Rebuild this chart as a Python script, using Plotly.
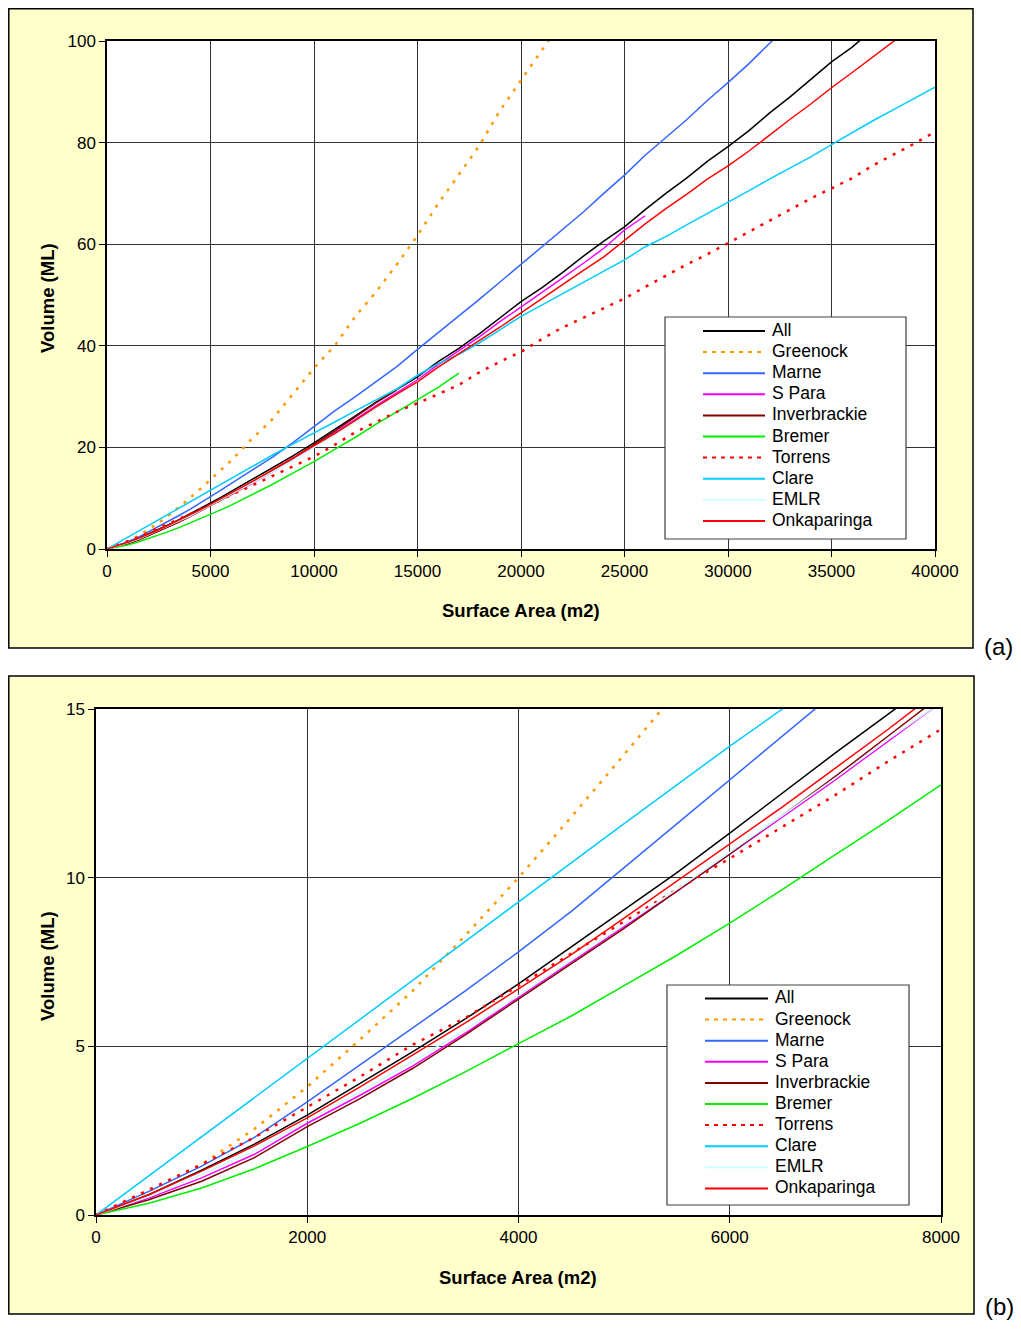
import plotly.graph_objects as go

# ---------------- data ----------------
area = [0, 500, 1000, 1500, 2000, 2500, 3000, 3500, 4000, 4500, 5000, 5500, 6000, 6500, 7000, 7500, 8000,
        9000, 10000, 11000, 12000, 13000, 14000, 15000, 16000, 17000, 18000, 19000, 20000, 21000, 22000,
        23000, 24000, 25000, 26000, 27000, 28000, 29000, 30000, 31000, 32000, 33000, 34000, 35000, 36000,
        37000, 38000, 39000, 40000]

vol_all = [0, 0.6, 1.33, 2.1, 2.96, 3.9, 4.84, 5.82, 6.85, 7.95, 9.05, 10.15, 11.32, 12.5, 13.7, 14.85, 16.0,
           18.4, 20.9, 23.5, 26.2, 28.9, 31.4, 33.9, 36.9, 39.5, 42.4, 45.5, 48.7, 51.4, 54.4,
           57.6, 60.6, 63.4, 66.8, 70.0, 73.0, 76.3, 79.2, 82.3, 85.8, 89.0, 92.5, 95.9, 98.8,
           102.3, None, None, None]

vol_greenock = [0, 0.7, 1.5, 2.55, 3.8, 5.2, 6.65, 8.3, 10.0, 11.8, 13.65, 15.5, 17.4, 19.5, 21.7, 23.6, 25.6,
                30.6, 35.6, 40.0, 45.8, 50.6, 56.0, 61.7, 68.0, 73.7, 79.5, 86.4, 92.3, 98.3, 104.0,
                None, None, None, None, None, None, None, None, None, None, None, None, None, None,
                None, None, None, None]

vol_marne = [0, 0.7, 1.45, 2.3, 3.35, 4.45, 5.55, 6.65, 7.8, 9.0, 10.3, 11.6, 12.9, 14.2, 15.5, 16.8, 18.1,
             21.0, 24.1, 27.2, 30.0, 33.0, 35.9, 39.3, 42.6, 45.8, 49.2, 52.6, 56.0, 59.5, 62.8,
             66.3, 70.0, 73.6, 77.5, 81.0, 84.5, 88.3, 91.8, 95.5, 99.6, 103.5, None, None, None,
             None, None, None, None]

vol_spara = [0, 0.5, 1.1, 1.8, 2.72, 3.55, 4.42, 5.4, 6.45, 7.5, 8.55, 9.6, 10.7, 11.8, 12.9, 14.05, 15.2,
             17.6, 20.2, 22.8, 25.5, 28.2, 30.8, 33.3, 36.3, 39.0, 41.8, 44.8, 47.6, 50.5, 53.3,
             56.2, 59.2, 62.8, 65.6, None, None, None, None, None, None, None, None, None, None,
             None, None, None, None]

vol_inverbrackie = [0, 0.45, 1.0, 1.7, 2.62, 3.45, 4.35, 5.35, 6.4, 7.45, 8.5, 9.6, 10.7, 11.85, 13.0, 14.2, 15.4,
                    17.9, 20.5, 23.2, 26.0, 28.8, 31.3, None, None, None, None, None, None, None, None,
                    None, None, None, None, None, None, None, None, None, None, None, None, None, None,
                    None, None, None, None]

vol_bremer = [0, 0.35, 0.8, 1.37, 2.03, 2.72, 3.46, 4.25, 5.08, 5.9, 6.8, 7.7, 8.65, 9.65, 10.68, 11.7, 12.75,
              15.0, 17.2, 19.6, 22.0, 24.6, 27.0, 29.4, 31.8, 34.6, None, None, None, None, None,
              None, None, None, None, None, None, None, None, None, None, None, None, None, None,
              None, None, None, None]

vol_torrens = [0, 0.75, 1.5, 2.3, 3.2, 4.1, 5.05, 5.85, 6.8, 7.75, 8.7, 9.65, 10.57, 11.5, 12.45, 13.45, 14.4,
               16.3, 18.2, 20.5, 23.0, 25.0, 27.0, 28.7, 30.5, 32.3, 34.8, 36.9, 38.8, 41.3, 43.6,
               45.5, 47.3, 49.3, 51.6, 53.8, 56.0, 58.0, 60.2, 62.4, 64.6, 66.8, 69.0, 71.0, 73.0,
               75.5, 77.6, 79.8, 82.1]

vol_clare = [0, 1.16, 2.32, 3.48, 4.65, 5.8, 6.97, 8.13, 9.3, 10.45, 11.6, 12.75, 13.9, 15.0, 16.2, 17.4, 18.5,
             20.7, 22.8, 25.0, 27.2, 29.3, 31.5, 34.2, 36.5, 38.3, 40.6, 43.2, 45.8, 48.0, 50.2,
             52.4, 54.6, 56.9, 59.5, 61.5, 63.8, 66.0, 68.2, 70.5, 72.8, 75.0, 77.2, 79.6, 82.0,
             84.3, 86.5, 88.7, 90.9]

vol_emlr = [0, 0.55, 1.2, 1.9, 2.8, 3.65, 4.55, 5.5, 6.5, 7.55, 8.6, 9.65, 10.75, 11.85, 12.95, 14.1, 15.2,
            17.5, 20.0, 22.5, 25.0, 27.7, 30.3, 33.0, 35.8, 38.3, None, None, None, None, None,
            None, None, None, None, None, None, None, None, None, None, None, None, None, None,
            None, None, None, None]

vol_onkaparinga = [0, 0.6, 1.3, 2.05, 2.88, 3.8, 4.75, 5.7, 6.7, 7.72, 8.8, 9.9, 11.02, 12.1, 13.25, 14.4, 15.6,
                   18.0, 20.3, 22.7, 25.3, 28.0, 30.5, 32.9, 35.8, 38.4, 41.0, 43.7, 46.5, 49.3, 52.0,
                   54.8, 57.5, 60.7, 64.0, 67.0, 69.8, 72.8, 75.4, 78.3, 81.5, 84.6, 87.6, 90.8, 93.8,
                   96.9, 100.0, 103.0, None]

series_names = ["All", "Greenock", "Marne", "S Para", "Inverbrackie", "Bremer", "Torrens",
                "Clare", "EMLR", "Onkaparinga"]
series_values = [vol_all, vol_greenock, vol_marne, vol_spara, vol_inverbrackie, vol_bremer,
                 vol_torrens, vol_clare, vol_emlr, vol_onkaparinga]

xticks_a = [0, 5000, 10000, 15000, 20000, 25000, 30000, 35000, 40000]
yticks_a = [0, 20, 40, 60, 80, 100]
xticks_b = [0, 2000, 4000, 6000, 8000]
yticks_b = [0, 5, 10, 15]

# ---------------- styling ----------------
colors = ["#000000", "#FF9900", "#3366FF", "#FF00FF", "#800000", "#00EE00", "#FF0000",
          "#00CCFF", "#CCFFFF", "#FF0000"]
dashes = ["solid", "3px,7px", "solid", "solid", "solid", "solid", "3px,7px",
          "solid", "solid", "solid"]
widths = [1.5, 2.5, 1.5, 1.5, 1.5, 1.5, 2.5, 1.5, 1.5, 1.5]

# the page body keeps its default 8px margin, so the figure is 16px smaller than the window
PAGE_W, PAGE_H = 1021, 1329
OFF = 8
W, H = PAGE_W - 2 * OFF, PAGE_H - 2 * OFF
FONT = "Arial, Liberation Sans, sans-serif"


def fx(px):
    return (px - OFF) / W


def fy(py):
    return 1 - (py - OFF) / H


fig = go.Figure()

for xa, ya in [("x", "y"), ("x2", "y2")]:
    for name, vals, c, d, w in zip(series_names, series_values, colors, dashes, widths):
        fig.add_trace(go.Scatter(
            x=area, y=vals, name=name, mode="lines",
            line=dict(color=c, dash=d, width=w),
            xaxis=xa, yaxis=ya, connectgaps=False, showlegend=False,
        ))

axis_common = dict(
    showgrid=True, gridcolor="#333333", gridwidth=1,
    showline=True, linecolor="#000000", linewidth=1.5, mirror=True,
    ticks="outside", ticklen=6, tickcolor="#000000", tickwidth=1,
    tickfont=dict(family=FONT, size=17, color="#000000"),
    tickformat="d", zeroline=False, fixedrange=True, automargin=False,
)

shapes = [
    dict(type="rect", xref="paper", yref="paper", x0=fx(8.8), x1=fx(973), y0=fy(648), y1=fy(8.8),
         fillcolor="#FFFFCC", line=dict(color="#000000", width=1.5), layer="below"),
    dict(type="rect", xref="paper", yref="paper", x0=fx(107), x1=fx(935), y0=fy(549), y1=fy(41),
         fillcolor="#FFFFFF", line=dict(width=0), layer="below"),
    dict(type="rect", xref="paper", yref="paper", x0=fx(8.8), x1=fx(974), y0=fy(1314), y1=fy(676),
         fillcolor="#FFFFCC", line=dict(color="#000000", width=1.5), layer="below"),
    dict(type="rect", xref="paper", yref="paper", x0=fx(96), x1=fx(941), y0=fy(1215), y1=fy(709),
         fillcolor="#FFFFFF", line=dict(width=0), layer="below"),
]

annotations = [
    dict(text="<b>Surface Area (m2)</b>", xref="paper", yref="paper", x=fx(521), y=fy(610),
         showarrow=False, font=dict(family=FONT, size=18.5), xanchor="center", yanchor="middle"),
    dict(text="<b>Volume (ML)</b>", xref="paper", yref="paper", x=fx(47), y=fy(298),
         showarrow=False, textangle=-90, font=dict(family=FONT, size=18.5),
         xanchor="center", yanchor="middle"),
    dict(text="<b>Surface Area (m2)</b>", xref="paper", yref="paper", x=fx(518), y=fy(1277),
         showarrow=False, font=dict(family=FONT, size=18.5), xanchor="center", yanchor="middle"),
    dict(text="<b>Volume (ML)</b>", xref="paper", yref="paper", x=fx(47), y=fy(966),
         showarrow=False, textangle=-90, font=dict(family=FONT, size=18.5),
         xanchor="center", yanchor="middle"),
    dict(text="(a)", xref="paper", yref="paper", x=fx(998), y=fy(647),
         showarrow=False, font=dict(family=FONT, size=24), xanchor="center", yanchor="middle"),
    dict(text="(b)", xref="paper", yref="paper", x=fx(999), y=fy(1306),
         showarrow=False, font=dict(family=FONT, size=24), xanchor="center", yanchor="middle"),
]

# legend boxes (drawn as shapes + text so the compact spacing of the original is kept)
legend_boxes = [
    dict(x0=665, x1=906, y0=317, y1=539, first=331, line0=703, line1=765, text=770),
    dict(x0=667, x1=909, y0=985, y1=1205, first=998.5, line0=705, line1=768, text=773),
]
ROW = 21.1
for lb in legend_boxes:
    shapes.append(dict(type="rect", xref="paper", yref="paper",
                       x0=fx(lb["x0"]), x1=fx(lb["x1"]), y0=fy(lb["y1"]), y1=fy(lb["y0"]),
                       fillcolor="#FFFFFF", line=dict(color="#404040", width=1.2), layer="above"))
    for i, (name, c, d) in enumerate(zip(series_names, colors, dashes)):
        yy = lb["first"] + i * ROW
        shapes.append(dict(type="line", xref="paper", yref="paper",
                           x0=fx(lb["line0"]), x1=fx(lb["line1"]), y0=fy(yy), y1=fy(yy),
                           line=dict(color=c, width=2, dash=("4px,5px" if d != "solid" else "solid")),
                           layer="above"))
        annotations.append(dict(text=name, xref="paper", yref="paper", x=fx(lb["text"]), y=fy(yy - 1),
                                showarrow=False, xanchor="left", yanchor="middle",
                                font=dict(family=FONT, size=17.5, color="#000000")))

fig.update_layout(
    template="none",
    width=W, height=H, autosize=False,
    margin=dict(l=0, r=0, t=0, b=0, autoexpand=False),
    paper_bgcolor="white", plot_bgcolor="white",
    font=dict(family=FONT, size=17, color="#000000"),
    showlegend=False,
    xaxis=dict(domain=[fx(107), fx(935)], range=[0, 40000], tickvals=xticks_a, anchor="y",
               **axis_common),
    yaxis=dict(domain=[fy(549), fy(41)], range=[0, 100], tickvals=yticks_a, anchor="x",
               **axis_common),
    xaxis2=dict(domain=[fx(96), fx(941)], range=[0, 8000], tickvals=xticks_b, anchor="y2",
                **axis_common),
    yaxis2=dict(domain=[fy(1215), fy(709)], range=[0, 15], tickvals=yticks_b, anchor="x2",
                **axis_common),
    shapes=shapes,
    annotations=annotations,
)

fig.write_html("out.html", config={"responsive": False, "displayModeBar": False})
